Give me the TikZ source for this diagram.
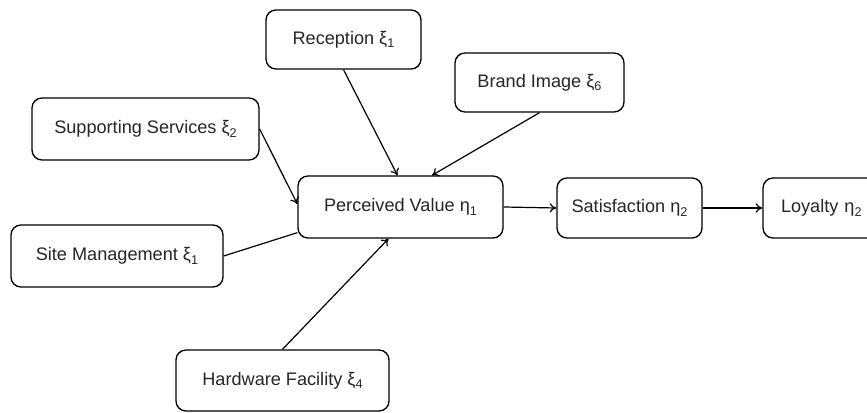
\documentclass[tikz,border=0pt]{standalone}
\usepackage{fontspec}
\setmainfont{Liberation Sans}
\usetikzlibrary{arrows.meta,calc}
\newcommand{\sbx}[1]{\raisebox{-0.35ex}{\fontsize{9.5}{10}\selectfont #1}}
\begin{document}
\begin{tikzpicture}[x=0.75pt,y=-0.75pt,
  box/.style={draw=black, line width=1pt, rounded corners=7.5pt, fill=white,
    inner sep=0pt, font=\fontsize{13.6}{16}\selectfont, text=black!85},
  arr/.style={line width=0.9pt, -{To[length=5pt,width=7pt]}},
  ln/.style={line width=0.9pt}]
\useasboundingbox (0,0) rectangle (867,413);
\clip (0,0) rectangle (867,413);
\node[box, minimum width=155*0.75pt, minimum height=59*0.75pt] (rec) at (343.5,39.5) {Reception ξ\sbx{1}};
\node[box, minimum width=169*0.75pt, minimum height=59*0.75pt] (brand) at (539.5,82.5) {Brand Image ξ\sbx{6}};
\node[box, minimum width=227*0.75pt, minimum height=62*0.75pt] (sup) at (145.5,129) {Supporting Services ξ\sbx{2}};
\node[box, minimum width=205*0.75pt, minimum height=62*0.75pt] (pv) at (400.5,207) {Perceived Value η\sbx{1}};
\node[box, minimum width=145*0.75pt, minimum height=60*0.75pt] (sat) at (629.5,208) {Satisfaction η\sbx{2}};
\node[box, minimum width=130*0.75pt, minimum height=60*0.75pt, text width=110*0.75pt, align=left] (loy) at (828,208) {\hspace*{6pt}Loyalty η\sbx{2}};
\node[box, minimum width=212*0.75pt, minimum height=62*0.75pt] (site) at (117,256) {Site Management ξ\sbx{1}};
\node[box, minimum width=213*0.75pt, minimum height=61*0.75pt] (hw) at (282.5,380.5) {Hardware Facility ξ\sbx{4}};
\draw[arr] (rec.south) -- ($(pv.north)+(-3,0)$);
\draw[arr] (brand.south) -- ($(pv.north)+(31.5,0)$);
\draw[arr] (sup.east) -- ($(pv.west)+(0,-3)$);
\draw[ln] (site.east) -- ($(pv.south west)+(0,-6)$);
\draw[arr] (hw.north) -- ($(pv.south)+(-12,0)$);
\draw[arr] (pv.east) -- (sat.west);
\draw[arr] (sat.east) -- (loy.west);
\end{tikzpicture}
\end{document}
